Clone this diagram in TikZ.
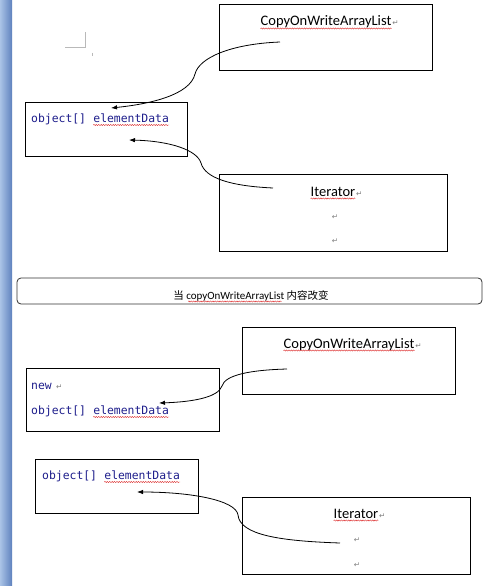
\documentclass[tikz,border=0pt]{standalone}
\usepackage{fontspec}
\setmainfont{Carlito}
\setmonofont{DejaVu Sans Mono}
\newfontfamily\cjkf{Noto Sans CJK SC}
\newfontfamily\symf{DejaVu Sans}
\usetikzlibrary{decorations.pathmorphing,arrows.meta}
\definecolor{codeblue}{RGB}{30,30,140}
\definecolor{barlight}{RGB}{170,195,230}
\definecolor{bardark}{RGB}{95,130,190}
\definecolor{wavyred}{RGB}{220,40,40}
\tikzset{
  box/.style={draw=black, line width=0.9pt, inner sep=0pt},
  lbl/.style={inner sep=0pt, font=\fontsize{14.5}{16}\selectfont},
  code/.style={inner sep=0pt, text=codeblue, font=\ttfamily\fontsize{11.4}{13}\selectfont},
  ret/.style={inner sep=0pt, text=gray, font=\symf\fontsize{7.5}{8}\selectfont},
  wavy/.style={draw=wavyred, line width=0.4pt, decorate, decoration={snake, amplitude=0.6pt, segment length=2.4pt}},
  link/.style={draw=black, line width=0.8pt, -{Latex[length=6pt,width=4.5pt]}}
}
\begin{document}
\begin{tikzpicture}[x=1pt,y=-1pt]
\useasboundingbox (0,0) rectangle (489,586);
\fill[white] (0,0) rectangle (489,586);
\shade[left color=barlight, right color=bardark] (0,0) rectangle (12,586);

% corner mark
\draw[gray!55, line width=0.6pt] (65,47) -- (85,47) -- (85,32);
\draw[gray!55, line width=0.5pt] (92,53) -- (92,56);

% ---- top part ----
\node[box, minimum width=213pt, minimum height=66pt] (A) at (325.5,37) {};
\node[lbl, anchor=base] (At) at (326,26) {CopyOnWriteArrayList};
\node[ret, anchor=base west] at ([xshift=0.5pt]At.base east) {↵};
\draw[wavy] ([yshift=-2.5pt]At.base west) -- ([yshift=-2.5pt]At.base east);

\node[box, minimum width=162pt, minimum height=54pt] (B) at (106,129) {};
\node[code, anchor=base west] (B1) at (31,122) {object[]};
\node[code, anchor=base west] (B2) at ([xshift=6.9pt]B1.base east) {elementData};
\draw[wavy] ([yshift=-3pt]B2.base west) -- ([yshift=-3pt]B2.base east);

\node[box, minimum width=228pt, minimum height=77pt] (C) at (333,212.5) {};
\node[lbl, anchor=base] (Ct) at (333,196) {Iterator};
\node[ret, anchor=base west] at ([xshift=0.5pt]Ct.base east) {↵};
\draw[wavy] ([yshift=-2.5pt]Ct.base west) -- ([yshift=-2.5pt]Ct.base east);
\node[ret] (C2) at (335,217) {↵};
\node[ret] (C3) at (335,241) {↵};

\coordinate (a1s) at (280,42);
\coordinate (a1e) at (111,108);
\draw[link] (a1s) .. controls (230,44) and (199,58) .. (195,74) .. controls (190,95) and (150,104) .. (a1e);

\coordinate (a2s) at (273,188);
\coordinate (a2e) at (129,140);
\draw[link] (a2s) .. controls (230,186) and (205,178) .. (201,163) .. controls (197,150) and (170,141) .. (a2e);

% ---- separator ----
\node[draw=black!80, line width=0.8pt, rounded corners=4pt, minimum width=465pt, minimum height=26pt, inner sep=0pt] (D) at (249.5,291) {};
\node[inner sep=0pt, anchor=base, font=\fontsize{11}{12}\selectfont] (Dt) at (251,299)
  {{\cjkf\fontsize{10.5}{12}\selectfont 当}\ copyOnWriteArrayList\ {\cjkf\fontsize{10.5}{12}\selectfont 内容改变}};
\draw[wavy] ([xshift=15pt,yshift=-2.5pt]Dt.base west) -- ([xshift=-47pt,yshift=-2.5pt]Dt.base east);

% ---- bottom part ----
\node[box, minimum width=213pt, minimum height=67pt] (E) at (348.5,360.5) {};
\node[lbl, anchor=base] (Et) at (349,348) {CopyOnWriteArrayList};
\node[ret, anchor=base west] at ([xshift=0.5pt]Et.base east) {↵};
\draw[wavy] ([yshift=-2.5pt]Et.base west) -- ([yshift=-2.5pt]Et.base east);

\node[box, minimum width=193pt, minimum height=63pt] (F) at (122.5,399.5) {};
\node[code, anchor=base west] (F0) at (31,389) {new};
\node[ret, anchor=base west] at ([xshift=4pt]F0.base east) {↵};
\node[code, anchor=base west] (F1) at (31,414) {object[]};
\node[code, anchor=base west] (F2) at ([xshift=6.9pt]F1.base east) {elementData};
\draw[wavy] ([yshift=-3pt]F2.base west) -- ([yshift=-3pt]F2.base east);

\node[box, minimum width=163pt, minimum height=54pt] (G) at (116.5,486) {};
\node[code, anchor=base west] (G1) at (42,479) {object[]};
\node[code, anchor=base west] (G2) at ([xshift=6.9pt]G1.base east) {elementData};
\draw[wavy] ([yshift=-3pt]G2.base west) -- ([yshift=-3pt]G2.base east);

\node[box, minimum width=228pt, minimum height=77pt] (H) at (356,535.5) {};
\node[lbl, anchor=base] (Ht) at (356,518) {Iterator};
\node[ret, anchor=base west] at ([xshift=0.5pt]Ht.base east) {↵};
\draw[wavy] ([yshift=-2.5pt]Ht.base west) -- ([yshift=-2.5pt]Ht.base east);
\node[ret] (H2) at (357,540) {↵};
\node[ret] (H3) at (357,565) {↵};

\coordinate (a3s) at (287,369);
\coordinate (a3e) at (159,403);
\draw[link] (a3s) .. controls (250,370) and (225,375) .. (222,386) .. controls (218,398) and (190,402) .. (a3e);

\coordinate (a4s) at (340,543);
\coordinate (a4e) at (137,492);
\draw[link] (a4s) .. controls (280,541) and (240,535) .. (238,515) .. controls (236,500) and (190,492) .. (a4e);
\end{tikzpicture}
\end{document}
